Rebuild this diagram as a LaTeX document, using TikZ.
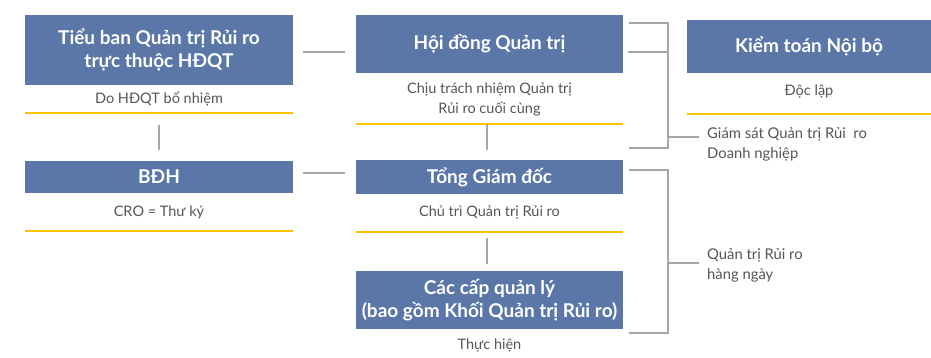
\documentclass[tikz,border=0pt]{standalone}
\usepackage{fontspec}
\setmainfont{Lato}
\definecolor{boxblue}{HTML}{5A77A8}
\definecolor{ylw}{HTML}{FFC000}
\definecolor{conn}{HTML}{A6A6A6}
\definecolor{txt}{HTML}{555555}
\begin{document}
\begin{tikzpicture}[x=1pt,y=-1pt,
  box/.style={fill=boxblue, text=white, font=\bfseries\fontsize{19}{23}\selectfont, align=center, inner sep=0pt},
  sub/.style={text=txt, font=\fontsize{14.5}{20}\selectfont, align=center, inner sep=0pt},
  side/.style={text=txt, font=\fontsize{14.8}{20}\selectfont, align=left, inner sep=0pt, anchor=west},
  yl/.style={draw=ylw, line width=1.6pt},
  cn/.style={draw=conn, line width=1.3pt}]
\useasboundingbox (0,0) rectangle (931,358);
% boxes
\node[box, minimum width=268pt, minimum height=70pt] (tb) at (159,50) {Tiểu ban Quản trị Rủi ro\\trực thuộc HĐQT};
\node[box, minimum width=267pt, minimum height=58pt] (hd) at (489.5,44) {Hội đồng Quản trị};
\node[box, minimum width=244pt, minimum height=53pt] (kt) at (809,46.5) {Kiểm toán Nội bộ};
\node[box, minimum width=268pt, minimum height=32pt] (bdh) at (159,177) {BĐH};
\node[box, minimum width=267pt, minimum height=34pt] (tgd) at (489.5,177) {Tổng Giám đốc};
\node[box, minimum width=267pt, minimum height=58pt] (ccq) at (489.5,300) {Các cấp quản lý\\(bao gồm Khối Quản trị Rủi ro)};
% sub texts
\node[sub] (tbs) at (159,99) {Do HĐQT bổ nhiệm};
\node[sub] (hds) at (489.5,99.5) {Chịu trách nhiệm Quản trị\\Rủi ro cuối cùng};
\node[sub] (kts) at (809,91) {Độc lập};
\node[sub] (bdhs) at (159,212) {CRO = Thư ký};
\node[sub] (tgds) at (489.5,212) {Chủ trì Quản trị Rủi ro};
\node[sub] (ccqs) at (489.5,345) {Thực hiện};
\node[side] (gs) at (707,144) {Giám sát Quản trị Rủi\ \ ro\\Doanh nghiệp};
\node[side] (qt) at (707,265) {Quản trị Rủi ro\\hàng ngày};
% yellow rules
\coordinate (tbl) at (159,113);
\coordinate (hdl) at (487,124);
\coordinate (bdhl) at (159,231);
\coordinate (tgdl) at (487,232);
\draw[yl] (tb.west |- tbl) -- (tb.east |- tbl);
\draw[yl] (hd.west |- hdl) -- (hd.east |- hdl);
\draw[yl] (kt.west |- 0,114) -- (kt.east |- 0,114);
\draw[yl] (bdh.west |- bdhl) -- (bdh.east |- bdhl);
\draw[yl] (tgd.west |- tgdl) -- (tgd.east |- tgdl);
% connectors
\draw[cn] ([xshift=10pt,yshift=-2pt]tb.east) -- ([xshift=-11pt,yshift=-2pt]tb.east -| hd.west);
\draw[cn] ([xshift=10pt,yshift=4pt]bdh.east) -- ([xshift=-11pt,yshift=4pt]bdh.east -| tgd.west);
\draw[cn] ([yshift=-12pt]tbl) -- ([yshift=11pt]bdh.north);
\draw[cn] (hdl) -- ([yshift=10pt]tgd.north -| hdl);
\draw[cn] ([yshift=-6pt]tgdl) -- ([yshift=7pt]ccq.north -| tgdl);
% brackets
\coordinate (bx) at (668,0);
\draw[cn] ([xshift=6pt]hd.east |- 0,23) -- (bx |- 0,23) -- (bx |- 0,148) -- ([xshift=6pt]hd.east |- 0,148);
\draw[cn] ([xshift=5pt]hd.east |- 0,52) -- (bx |- 0,52);
\draw[cn] (bx |- 0,137) -- ([xshift=-8pt]gs.west |- 0,137);
\draw[cn] ([xshift=6pt]tgd.east |- 0,170) -- (bx |- 0,170) -- (bx |- 0,333) -- ([xshift=6pt]ccq.east |- 0,333);
\draw[cn] (bx |- 0,263) -- ([xshift=-8pt]qt.west |- 0,263);
\end{tikzpicture}
\end{document}
